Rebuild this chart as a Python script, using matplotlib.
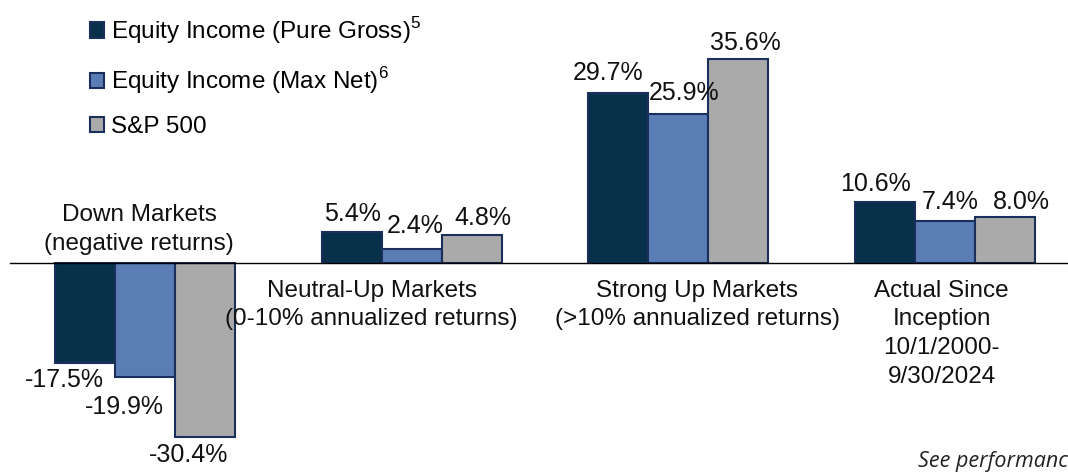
import matplotlib
matplotlib.use("Agg")
import matplotlib.pyplot as plt
import numpy as np

plt.rcParams['font.family'] = ['Liberation Sans', 'DejaVu Sans']
plt.rcParams['mathtext.fontset'] = 'custom'
plt.rcParams['mathtext.rm'] = 'Liberation Sans'

categories = ["Down Markets\n(negative returns)",
              "Neutral-Up Markets\n(0-10% annualized returns)",
              "Strong Up Markets\n(>10% annualized returns)",
              "Actual Since\nInception\n10/1/2000-\n9/30/2024"]
series_names = ["Equity Income (Pure Gross)$^{5}$",
                "Equity Income (Max Net)$^{6}$",
                "S&P 500"]
pure_gross = [-17.5, 5.4, 29.7, 10.6]
max_net = [-19.9, 2.4, 25.9, 7.4]
sp500 = [-30.4, 4.8, 35.6, 8.0]
footnote = "See performanc"

colors = ["#07304A", "#5B7DB5", "#AAAAAA"]
edge = "#1B2F5C"
FS = 17.5

# value-label offsets in pixels (dx, dy) from bar end, per series/category
label_offsets = [
    [(-21, -17), (1, 18), (-10, 20), (-9, 18)],
    [(-21, -30), (4, 23), (6, 21), (6, 19)],
    [(-16, -18), (11, 17), (7, 16), (17, 15)],
]
# category label anchor offsets (px from group centre, data y, vertical alignment)
cat_dx = [-6, -40, 19, -3]
cat_y = [1.4, -2.9, -2.9, -2.9]
cat_va = ['bottom', 'top', 'top', 'top']

fig = plt.figure(figsize=(10.68, 4.72), dpi=100)
ax = fig.add_axes([0, 0, 1, 1])
px_x = 266.3
px_y = 5.74
ax.set_xlim(-145 / px_x, (1068 - 145) / px_x)
ax.set_ylim(-(472 - 263) / px_y, 263 / px_y)
ax.axis('off')

x = np.arange(len(categories)) * (266.5 / px_x)
w = 60 / px_x
series = [pure_gross, max_net, sp500]
handles = []
for i, vals in enumerate(series):
    bars = ax.bar(x + (i - 1) * w, vals, width=w, color=colors[i],
                  edgecolor=edge, linewidth=1.5, zorder=2)
    handles.append(bars)
    for j, v in enumerate(vals):
        dx, dy = label_offsets[i][j]
        ax.annotate(f"{v:.1f}%", (x[j] + (i - 1) * w, v),
                    xytext=(dx, dy), textcoords='offset pixels',
                    ha='center', va='center', fontsize=18, color='#111111')

ax.axhline(0, xmin=10 / 1068, xmax=1, color='black', linewidth=1.0, zorder=3)

for j in range(4):
    ax.text(x[j] + cat_dx[j] / px_x, cat_y[j], categories[j], ha='center',
            va=cat_va[j], fontsize=FS, linespacing=1.4, color='#111111',
            multialignment='center')

leg = fig.legend(handles, series_names, loc='upper left',
                 bbox_to_anchor=(80 / 1068, 1 - 5 / 472), frameon=False,
                 fontsize=FS, handlelength=0.58, handleheight=0.58,
                 handletextpad=0.3, labelspacing=0.82, borderaxespad=0)

fig.text(918 / 1068, 1 - 462 / 472, footnote, family='Open Sans',
         style='italic', fontsize=15.5, color='#222222', va='center', ha='left')

fig.savefig("out.png", dpi=100)
